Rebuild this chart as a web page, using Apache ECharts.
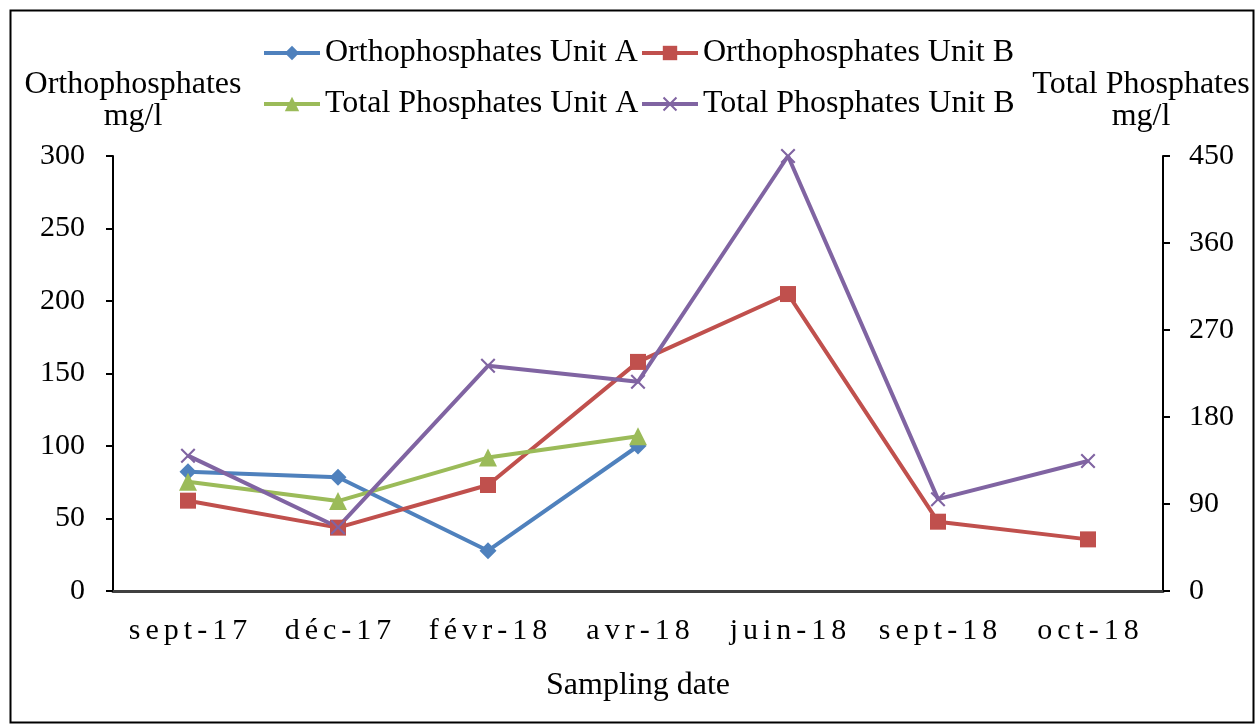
<!DOCTYPE html>
<html>
<head>
<meta charset="utf-8">
<script src="https://cdn.jsdelivr.net/npm/echarts@6/dist/echarts.min.js"></script>
<style>
  html, body { margin: 0; padding: 0; background: #fff; }
  #chart { width: 1259px; height: 725px; }
</style>
</head>
<body>
<div id="chart"></div>
<script>
const dates = ['sept-17', 'déc-17', 'févr-18', 'avr-18', 'juin-18', 'sept-18', 'oct-18']
const orthoA = [82.3, 78.4, 27.8, 100, null, null, null]
const orthoB = [62.3, 43.7, 73.1, 158, 204.8, 47.8, 35.6]
const totalA = [113, 93, 138, 160, null, null, null]
const totalB = [140, 66, 233, 216.5, 450, 95, 134.5]
const leftTicks = [0, 300, 50]
const rightTicks = [0, 450, 90]

const FONT = 'Liberation Serif'
const X_SYMBOL = 'path://M0,1L1,0L5,4L9,0L10,1L6,5L10,9L9,10L5,6L1,10L0,9L4,5Z'

const chart = echarts.init(document.getElementById('chart'), null, { renderer: 'canvas' })

function line(name, data, color, symbol, size, yIdx) {
  return {
    name, type: 'line', data, yAxisIndex: yIdx,
    symbol, symbolSize: size,
    connectNulls: false,
    lineStyle: { width: 4, color },
    itemStyle: { color },
    emphasis: { disabled: true },
  }
}

const legendBase = {
  padding: 0,
  itemWidth: 56, itemHeight: 18, itemGap: 0,
  lineStyle: { width: 4 },
  textStyle: { fontFamily: FONT, fontSize: 32, color: '#000' },
}

// spread the date labels a bit like the original
const spaced = v => v.split('').join('\u200A\u200A')

chart.setOption({
  animation: false,
  color: ['#4F81BD', '#C0504D', '#9BBB59', '#8064A2'],
  grid: { left: 113, right: 96, top: 156, bottom: 134 },
  legend: [
    { ...legendBase, left: 262, top: 37, data: ['Orthophosphates Unit A'] },
    { ...legendBase, left: 640, top: 37, data: ['Orthophosphates Unit B'] },
    { ...legendBase, left: 262, top: 88, data: ['Total Phosphates Unit A'] },
    { ...legendBase, left: 640, top: 88, data: ['Total Phosphates Unit B'] },
  ],
  xAxis: {
    type: 'category', data: dates, boundaryGap: true,
    name: 'Sampling date', nameLocation: 'middle', nameGap: 79,
    nameTextStyle: { fontFamily: FONT, fontSize: 32, color: '#000' },
    axisLine: { lineStyle: { color: '#404040', width: 3 } },
    axisTick: { show: false },
    axisLabel: {
      fontFamily: FONT, fontSize: 30, color: '#000', margin: 25,
      interval: 0, hideOverlap: false, formatter: spaced,
    },
  },
  yAxis: [
    {
      type: 'value', min: leftTicks[0], max: leftTicks[1], interval: leftTicks[2],
      axisLine: { show: true, lineStyle: { color: '#000', width: 2 } },
      axisTick: { show: true, length: 7, lineStyle: { color: '#000', width: 2 } },
      axisLabel: { fontFamily: FONT, fontSize: 30, color: '#000', margin: 28 },
      splitLine: { show: false },
    },
    {
      type: 'value', position: 'right', min: rightTicks[0], max: rightTicks[1], interval: rightTicks[2],
      axisLine: { show: true, lineStyle: { color: '#000', width: 2 } },
      axisTick: { show: true, length: 7, lineStyle: { color: '#000', width: 2 } },
      axisLabel: { fontFamily: FONT, fontSize: 30, color: '#000', margin: 26 },
      splitLine: { show: false },
    },
  ],
  graphic: [
    {
      type: 'rect', left: 8, top: 8, silent: true,
      shape: { width: 1243, height: 712 },
      style: { fill: 'none', stroke: '#000', lineWidth: 2 },
    },
    {
      type: 'text', x: 133, y: 101, silent: true,
      style: { text: 'Orthophosphates\nmg/l', fontFamily: FONT, fontSize: 32, fill: '#000', align: 'center', verticalAlign: 'middle', lineHeight: 32 },
    },
    {
      type: 'text', x: 1141, y: 101, silent: true,
      style: { text: 'Total Phosphates\nmg/l', fontFamily: FONT, fontSize: 32, fill: '#000', align: 'center', verticalAlign: 'middle', lineHeight: 32 },
    },
  ],
  series: [
    line('Orthophosphates Unit A', orthoA, '#4F81BD', 'diamond', 17, 0),
    line('Orthophosphates Unit B', orthoB, '#C0504D', 'rect', 16, 0),
    line('Total Phosphates Unit A', totalA, '#9BBB59', 'triangle', 18, 1),
    line('Total Phosphates Unit B', totalB, '#8064A2', X_SYMBOL, 15, 1),
  ],
})
</script>
</body>
</html>
